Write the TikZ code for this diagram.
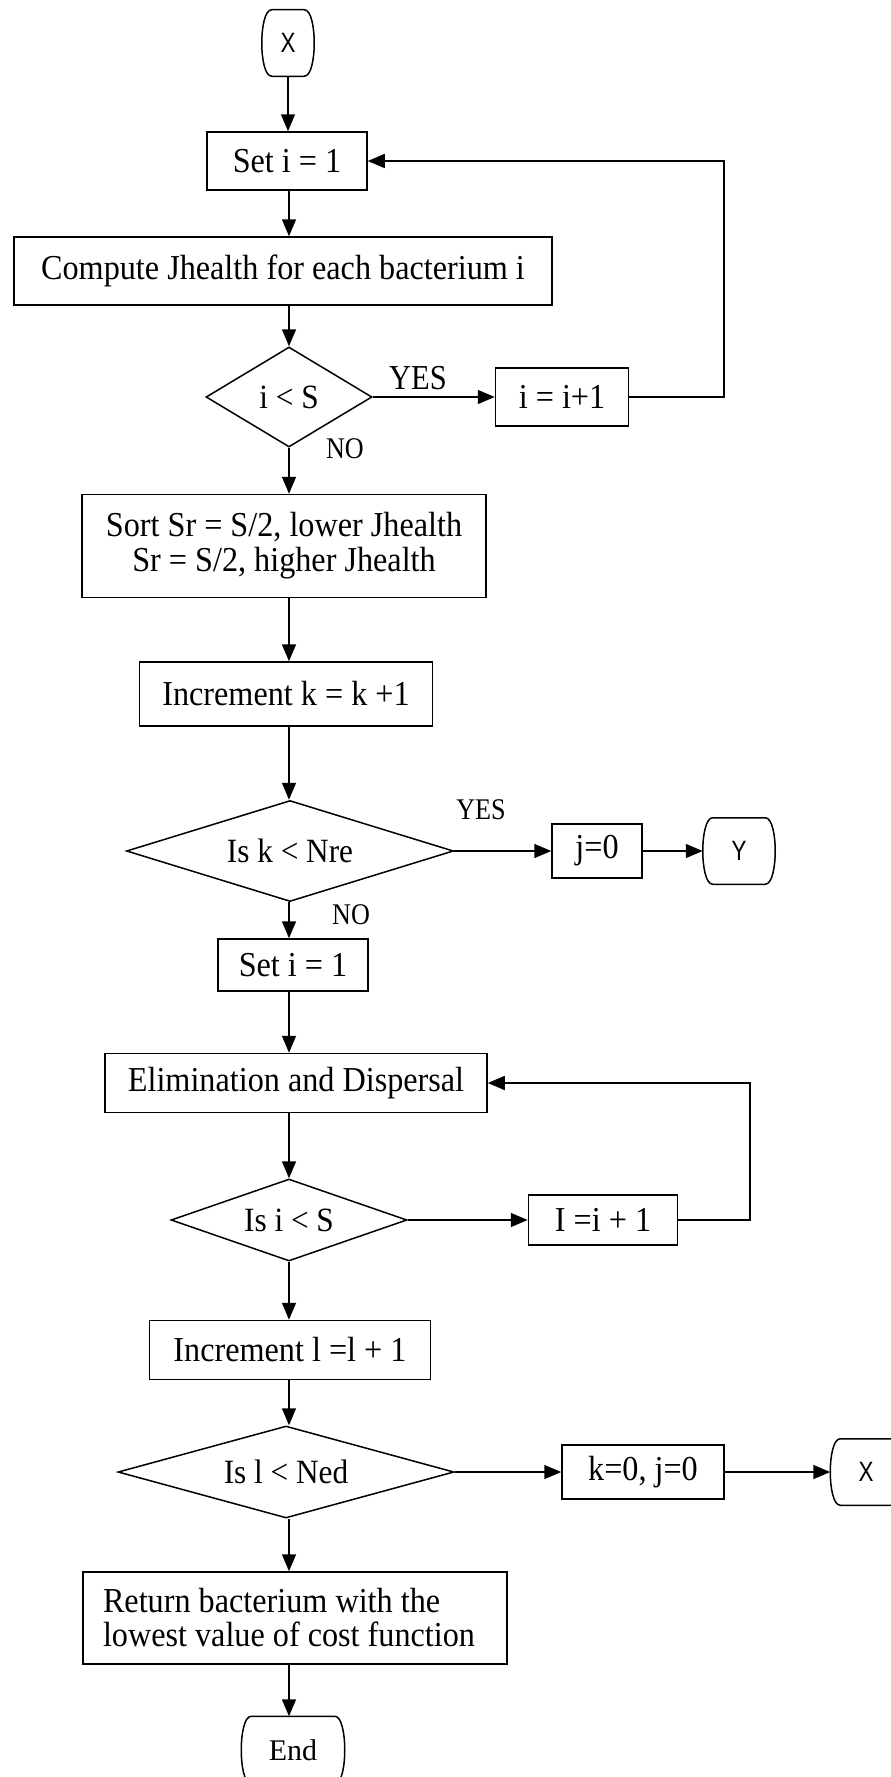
\documentclass[tikz,border=0pt]{standalone}
\usepackage{fontspec}
\setmainfont{Liberation Serif}
\newfontfamily\boxserif[FakeStretch=0.92]{Liberation Serif}
\newfontfamily\lblserif[FakeStretch=0.87]{Liberation Serif}
\newfontfamily\narrowsans[FakeStretch=0.8]{Liberation Sans}
\usetikzlibrary{arrows.meta,shapes.geometric,calc}

% outline of a terminal: straight top and bottom, bulging rounded sides
\newcommand\drawterm[1]{%
  \draw ($(#1.north west)+(10,0)$) -- ($(#1.north east)+(-10,0)$)
    .. controls ($(#1.north east)+(-3,0)$) and ($(#1.north east)+(0,18)$) .. (#1.east)
    .. controls ($(#1.south east)+(0,-18)$) and ($(#1.south east)+(-3,0)$) .. ($(#1.south east)+(-10,0)$)
    -- ($(#1.south west)+(10,0)$)
    .. controls ($(#1.south west)+(3,0)$) and ($(#1.south west)+(0,-18)$) .. (#1.west)
    .. controls ($(#1.north west)+(0,18)$) and ($(#1.north west)+(3,0)$) .. cycle;}

\begin{document}
\begin{tikzpicture}[x=1pt,y=-1pt,
  line width=1.5pt,
  box/.style={draw, rectangle, inner sep=0pt, font=\boxserif\fontsize{35}{35}\selectfont},
  decision/.style={draw, diamond, inner sep=0pt, font=\boxserif\fontsize{34}{36}\selectfont},
  term/.style={rectangle, inner sep=0pt, minimum width=70pt, minimum height=65pt},
  termtext/.style={font=\narrowsans\fontsize{28}{32}\selectfont},
  arr/.style={-{Triangle[length=17pt,width=14pt]}},
  lbl/.style={font=\lblserif\fontsize{30}{30}\selectfont, inner sep=0pt}
]
\useasboundingbox (0,0) rectangle (891,1777);
\clip (0,0) rectangle (891,1777);

% main column
\node[term, termtext, minimum width=51pt] (xtop) at (288,43) {X};
\node[box, minimum width=160pt, minimum height=58pt] (setone) at (287,161) {Set i = 1};
\node[box, minimum width=538pt, minimum height=68pt] (compute) at (283,271) {Compute Jhealth for each bacterium i};
\node[decision, aspect=1.66, minimum width=166pt, minimum height=100pt] (dia1) at (289,397) {i < S};
\node[box, minimum width=133pt, minimum height=58pt] (inc1) at (562,397) {i = i+1};
\node[box, minimum width=404pt, minimum height=103pt, align=center] (sort) at (284,546)
  {Sort Sr = S/2, lower Jhealth\\Sr = S/2, higher Jhealth};
\node[box, minimum width=293pt, minimum height=64pt] (inck) at (286,694) {Increment k = k +1};
\node[decision, aspect=3.24, minimum width=327pt, minimum height=101pt] (dia2) at (290,851) {Is k < Nre};
\node[box, minimum width=90pt, minimum height=54pt] (jzero) at (597,851) {j=0};
\node[term, termtext, minimum width=71pt] (yterm) at (739,851) {Y};
\node[box, minimum width=150pt, minimum height=52pt] (settwo) at (293,965) {Set i = 1};
\node[box, minimum width=382pt, minimum height=59pt] (elim) at (296,1083) {Elimination and Dispersal};
\node[decision, aspect=2.88, minimum width=236pt, minimum height=82pt] (dia3) at (289,1220) {Is i < S};
\node[box, minimum width=149pt, minimum height=50pt] (inci) at (603,1220) {I =i + 1};
\node[box, minimum width=281pt, minimum height=59pt] (incl) at (290,1350) {Increment l =l + 1};
\node[decision, aspect=3.66, minimum width=336pt, minimum height=92pt] (dia4) at (286,1472) {Is l < Ned\hspace{22pt}};
\node[box, minimum width=162pt, minimum height=54pt] (kj) at (643,1472) {k=0, j=0};
\node[term, termtext] (xbot) at (866,1472) {X};
\node[box, minimum width=424pt, minimum height=92pt, align=left,
      font=\boxserif\fontsize{35}{34}\selectfont] (ret) at (295,1618)
  {Return bacterium with the\\lowest value of cost function\hspace*{12pt}};
\node[term, minimum width=102pt, minimum height=66pt, font=\fontsize{30}{34}\selectfont] (endt) at (293,1750) {End};

% terminal outlines
\drawterm{xtop}
\drawterm{yterm}
\drawterm{xbot}
\drawterm{endt}

% loop corners
\coordinate (c1) at (724,161);
\coordinate (c2) at (750,1083);

% branch labels
\node[lbl, font=\lblserif\fontsize{35}{35}\selectfont] (yes1) at (418,378) {YES};
\node[lbl] (no1) at (345,449) {NO};
\node[lbl] (yes2) at (481,810) {YES};
\node[lbl] (no2) at (351,915) {NO};

% connectors
\draw[arr] (xtop) -- (setone.north -| xtop);
\draw[arr] (setone.south -| dia1) -- (compute.north -| dia1);
\draw[arr] (compute.south -| dia1) -- (dia1.north);
\draw[arr] (dia1.east) -- (inc1.west);
\draw[arr] (inc1.east) -| (c1) -- (setone.east);
\draw[arr] (dia1.south) -- (sort.north -| dia1);
\draw[arr] (sort.south -| dia1) -- (inck.north -| dia1);
\draw[arr] (inck.south -| dia1) -- (dia2.north -| dia1);
\draw[arr] (dia2.east) -- (jzero.west);
\draw[arr] (jzero.east) -- (yterm.west);
\draw[arr] (dia2.south -| dia1) -- (settwo.north -| dia1);
\draw[arr] (settwo.south -| dia1) -- (elim.north -| dia1);
\draw[arr] (elim.south -| dia3) -- (dia3.north);
\draw[arr] (dia3.east) -- (inci.west);
\draw[arr] (inci.east) -| (c2) -- (elim.east);
\draw[arr] (dia3.south) -- (incl.north -| dia3);
\draw[arr] (incl.south -| dia3) -- (dia4.north -| dia3);
\draw[arr] (dia4.east) -- (kj.west);
\draw[arr] (kj.east) -- (xbot.west);
\draw[arr] (dia4.south -| dia3) -- (ret.north -| dia3);
\draw[arr] (ret.south -| dia3) -- (endt.north -| dia3);
\end{tikzpicture}
\end{document}
